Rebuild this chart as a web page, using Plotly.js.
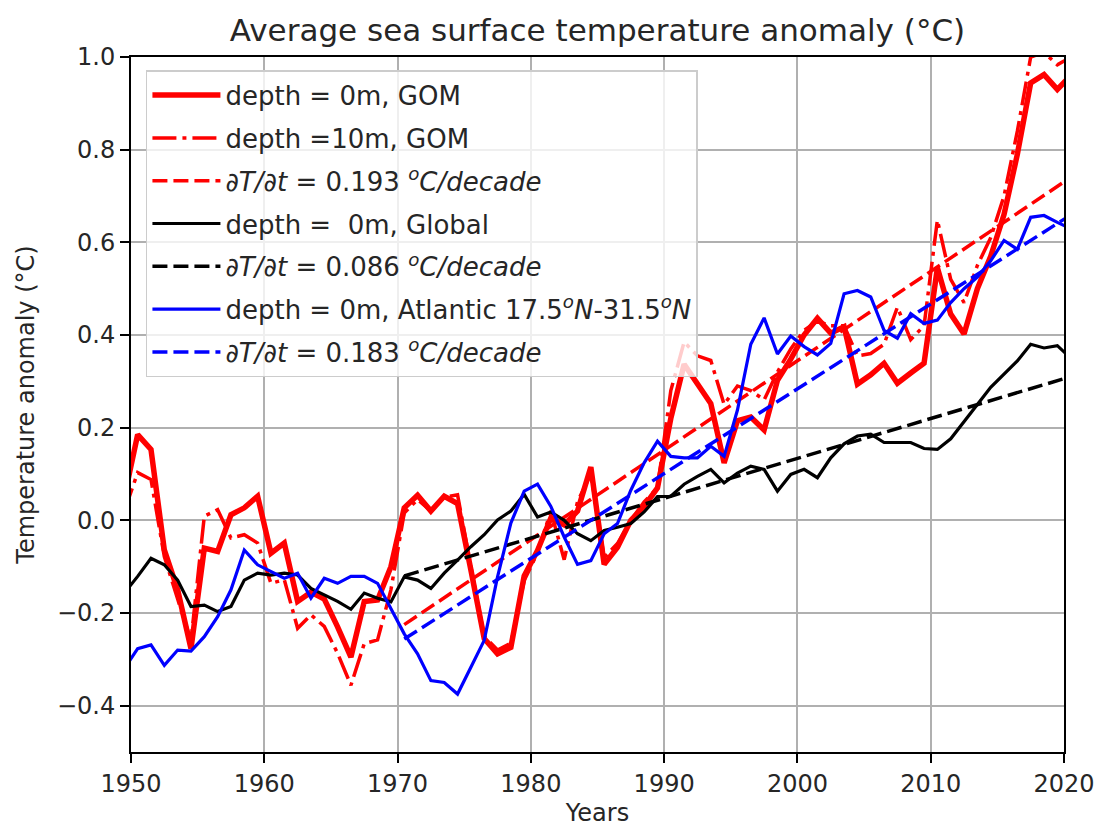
<!DOCTYPE html>
<html>
<head>
<meta charset="utf-8">
<script src="https://cdn.plot.ly/plotly-3.0.1.min.js"></script>
<style>html,body{margin:0;padding:0;background:#fff;}#chart{width:1102px;height:827px;}</style>
</head>
<body>
<div id="chart"></div>
<script>
// Mid-year sample positions
const years = [1949.5,1950.5,1951.5,1952.5,1953.5,1954.5,1955.5,1956.5,1957.5,1958.5,1959.5,
  1960.5,1961.5,1962.5,1963.5,1964.5,1965.5,1966.5,1967.5,1968.5,1969.5,
  1970.5,1971.5,1972.5,1973.5,1974.5,1975.5,1976.5,1977.5,1978.5,1979.5,
  1980.5,1981.5,1982.5,1983.5,1984.5,1985.5,1986.5,1987.5,1988.5,1989.5,
  1990.5,1991.5,1992.5,1993.5,1994.5,1995.5,1996.5,1997.5,1998.5,1999.5,
  2000.5,2001.5,2002.5,2003.5,2004.5,2005.5,2006.5,2007.5,2008.5,2009.5,
  2010.5,2011.5,2012.5,2013.5,2014.5,2015.5,2016.5,2017.5,2018.5,2019.5,2020.5];

const gom0m = [0.05,0.185,0.153,-0.064,-0.15,-0.277,-0.06,-0.067,0.012,0.027,0.052,
  -0.071,-0.049,-0.175,-0.155,-0.17,-0.23,-0.295,-0.175,-0.172,-0.10,
  0.027,0.054,0.02,0.052,0.036,-0.107,-0.255,-0.288,-0.274,-0.12,
  -0.065,0.005,-0.01,0.02,0.115,-0.095,-0.058,0.0,0.03,0.07,
  0.22,0.337,0.295,0.252,0.124,0.215,0.223,0.195,0.302,0.348,
  0.40,0.436,0.404,0.418,0.294,0.314,0.339,0.296,0.318,0.339,
  0.545,0.445,0.402,0.50,0.57,0.66,0.79,0.944,0.962,0.93,0.96];

const gom10m = [0.02,0.103,0.088,-0.078,-0.17,-0.26,0.009,0.023,-0.038,-0.031,-0.049,
  -0.136,-0.128,-0.233,-0.204,-0.229,-0.287,-0.356,-0.266,-0.258,-0.15,
  0.016,0.045,0.02,0.05,0.055,-0.10,-0.25,-0.28,-0.265,-0.13,
  -0.07,0.02,-0.085,0.04,0.10,-0.08,-0.05,0.0,0.04,0.07,
  0.28,0.385,0.355,0.345,0.25,0.29,0.28,0.26,0.32,0.37,
  0.41,0.43,0.42,0.42,0.355,0.36,0.38,0.46,0.39,0.42,
  0.648,0.52,0.47,0.55,0.61,0.70,0.84,1.00,1.01,0.983,1.00];

const global0m = [-0.157,-0.121,-0.082,-0.096,-0.129,-0.186,-0.183,-0.197,-0.186,-0.129,-0.114,
  -0.118,-0.114,-0.118,-0.147,-0.161,-0.175,-0.192,-0.157,-0.168,-0.176,
  -0.122,-0.129,-0.147,-0.114,-0.086,-0.057,-0.031,0.001,0.02,0.056,
  0.007,0.018,0.0,-0.029,-0.044,-0.022,-0.015,-0.007,0.018,0.051,
  0.052,0.078,0.095,0.11,0.081,0.102,0.117,0.11,0.063,0.099,
  0.11,0.092,0.135,0.165,0.182,0.186,0.168,0.168,0.168,0.155,
  0.153,0.176,0.214,0.25,0.287,0.315,0.344,0.38,0.372,0.377,0.35];

const atlantic0m = [-0.32,-0.277,-0.269,-0.313,-0.28,-0.282,-0.251,-0.208,-0.15,-0.064,-0.096,
  -0.11,-0.125,-0.114,-0.168,-0.125,-0.136,-0.121,-0.121,-0.136,-0.19,
  -0.245,-0.288,-0.346,-0.35,-0.375,-0.317,-0.259,-0.122,-0.006,0.063,
  0.078,0.03,-0.036,-0.095,-0.087,-0.029,-0.007,0.065,0.124,0.171,
  0.138,0.135,0.135,0.16,0.138,0.238,0.38,0.437,0.359,0.398,
  0.375,0.357,0.382,0.489,0.496,0.482,0.41,0.393,0.446,0.425,
  0.432,0.47,0.50,0.525,0.56,0.604,0.585,0.654,0.658,0.643,0.63];

// Linear trend lines (endpoints)
const trendYears = [1970.5, 2020.5];
const trendGom = [-0.225, 0.74];
const trendGlobal = [-0.12, 0.31];
const trendAtlantic = [-0.256, 0.659];

const xTicks = [1950,1960,1970,1980,1990,2000,2010,2020];
const yTicks = [-0.4,-0.2,0.0,0.2,0.4,0.6,0.8,1.0];

const FONT = 'DejaVu Sans, Liberation Sans, sans-serif';
const RED = '#ff0000', BLUE = '#0000ff', BLACK = '#000000';
const deg = '<sup><i>o</i></sup>';

const traces = [
  {x: years, y: gom0m, name: 'depth = 0m, GOM', legendgroup: 'a',
   line: {color: RED, width: 5.5}},
  {x: years, y: gom10m, name: 'depth =10m, GOM', legendgroup: 'b',
   line: {color: RED, width: 3.5, dash: '24px,6px,4px,6px'}},
  {x: trendYears, y: trendGom, name: '<i>∂T/∂t</i> = 0.193 ' + deg + '<i>C/decade</i>', legendgroup: 'c',
   line: {color: RED, width: 3.5, dash: '15px,6px'}},
  {x: years, y: global0m, name: 'depth =\u00a0\u00a00m, Global', legendgroup: 'd',
   line: {color: BLACK, width: 3.2}},
  {x: trendYears, y: trendGlobal, name: '<i>∂T/∂t</i> = 0.086 ' + deg + '<i>C/decade</i>', legendgroup: 'e',
   line: {color: BLACK, width: 3.5, dash: '15px,6px'}},
  {x: years, y: atlantic0m, name: 'depth = 0m, Atlantic 17.5' + deg + '<i>N</i>-31.5' + deg + '<i>N</i>', legendgroup: 'f',
   line: {color: BLUE, width: 3.2}},
  {x: trendYears, y: trendAtlantic, name: '<i>∂T/∂t</i> = 0.183 ' + deg + '<i>C/decade</i>', legendgroup: 'g',
   line: {color: BLUE, width: 3.5, dash: '15px,6px'}}
].map(t => Object.assign({type: 'scatter', mode: 'lines', hoverinfo: 'skip'}, t));

const layout = {
  width: 1102, height: 827,
  margin: {l: 131, r: 38, t: 57, b: 75},
  paper_bgcolor: '#ffffff', plot_bgcolor: '#ffffff',
  font: {family: FONT, size: 24, color: '#262626'},
  title: {text: 'Average sea surface temperature anomaly (°C)', font: {family: FONT, size: 31, color: '#262626'},
          x: 0.5, xref: 'paper', xanchor: 'center', y: 1 - 30/827, yref: 'container', yanchor: 'middle'},
  xaxis: {
    range: [1950, 2020], tickvals: xTicks, ticktext: xTicks.map(String),
    showgrid: true, gridcolor: '#b0b0b0', gridwidth: 2,
    showline: true, linecolor: '#000', linewidth: 2, mirror: true,
    ticks: 'outside', ticklen: 9, tickwidth: 2, tickcolor: '#000',
    zeroline: false, tickfont: {size: 24, color: '#262626'},
    title: {text: 'Years', font: {size: 24, color: '#262626'}, standoff: 15}
  },
  yaxis: {
    range: [-0.5, 1.0], tickvals: yTicks, tickformat: '.1f',
    showgrid: true, gridcolor: '#b0b0b0', gridwidth: 2,
    showline: true, linecolor: '#000', linewidth: 2, mirror: true,
    ticks: 'outside', ticklen: 9, tickwidth: 2, tickcolor: '#000',
    zeroline: false, tickfont: {size: 24, color: '#262626'},
    title: {text: 'Temperature anomaly (°C)', font: {size: 24, color: '#262626'}, standoff: 16}
  },
  showlegend: true,
  legend: {
    x: 0.016, y: 0.981, xanchor: 'left', yanchor: 'top',
    bgcolor: 'rgba(255,255,255,0.8)', bordercolor: '#cccccc', borderwidth: 1.5,
    font: {family: FONT, size: 26, color: '#262626'},
    tracegroupgap: 6, traceorder: 'grouped', itemwidth: 68
  }
};

Plotly.newPlot('chart', traces, layout, {staticPlot: true, displayModeBar: false});
</script>
</body>
</html>
